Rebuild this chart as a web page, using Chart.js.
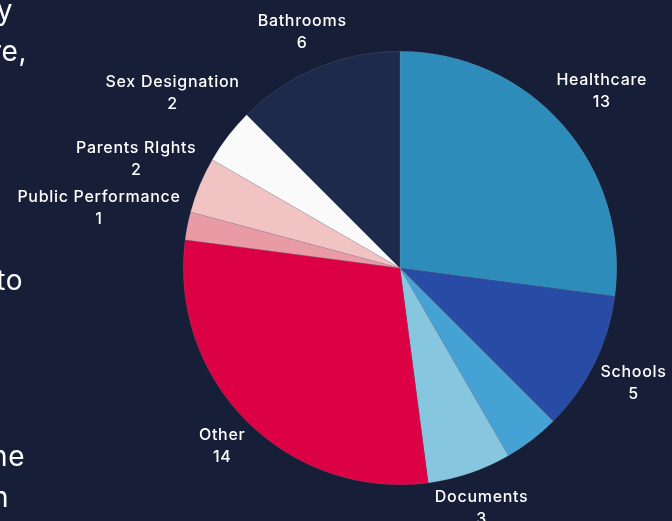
<!DOCTYPE html>
<html>
<head>
<meta charset="utf-8">
<script src="https://cdn.jsdelivr.net/npm/chart.js@4/dist/chart.umd.min.js"></script>
<style>
  html, body { margin: 0; padding: 0; background: #171e37; overflow: hidden; }
  #wrap { position: relative; width: 672px; height: 521px; }
  canvas { position: absolute; left: 0; top: 0; }
  .frag { position: absolute; right: 0; color: #ffffff; font-family: Inter, "Noto Sans", sans-serif;
          font-size: 28px; font-weight: 400; letter-spacing: 0.5px; white-space: nowrap; line-height: 1; }
</style>
</head>
<body>
<div id="wrap">
  <canvas id="c" width="672" height="521"></canvas>
  <div class="frag" style="right:659px; top:-4px;">y</div>
  <div class="frag" style="right:645px; top:37px;">re,</div>
  <div class="frag" style="right:649px; top:266px;">to</div>
  <div class="frag" style="right:647px; top:442px;">he</div>
  <div class="frag" style="right:663px; top:483px;">n</div>
</div>
<script>
const categories = ["Healthcare", "Schools", "", "Documents", "Other", "Public Performance", "Parents RIghts", "Sex Designation", "Bathrooms"];
const counts = [13, 5, 2, 3, 14, 1, 2, 2, 6];
const sliceColors = ["#2e8cbb", "#284ca5", "#46a1d4", "#86c6de", "#dc0044", "#e89aa5", "#f2c3c3", "#fafafa", "#1e2a4b"];

const outsideLabels = {
  id: 'outsideLabels',
  afterDatasetsDraw(chart) {
    const ctx = chart.ctx;
    const meta = chart.getDatasetMeta(0);
    const lineH = 22;
    ctx.save();
    ctx.font = '500 16px Inter, "Noto Sans", sans-serif';
    try { ctx.letterSpacing = '0.7px'; } catch (e) {}
    ctx.fillStyle = '#ffffff';
    ctx.textAlign = 'center';
    ctx.textBaseline = 'middle';
    meta.data.forEach((arc, i) => {
      const name = chart.data.labels[i];
      if (!name) return;
      const val = String(chart.data.datasets[0].data[i]);
      const mid = (arc.startAngle + arc.endAngle) / 2;
      const vx = Math.cos(mid), vy = Math.sin(mid);
      const w = Math.max(ctx.measureText(name).width, ctx.measureText(val).width);
      const h = 32;
      const d = arc.outerRadius + 7 + (w / 2) * Math.abs(vx) + (h / 2) * Math.abs(vy);
      const cx = arc.x + vx * d, cy = arc.y + vy * d;
      ctx.fillText(name, cx, cy - lineH / 2);
      ctx.fillText(val, cx, cy + lineH / 2);
    });
    ctx.restore();
  }
};

new Chart(document.getElementById('c'), {
  type: 'pie',
  data: {
    labels: categories,
    datasets: [{
      data: counts,
      backgroundColor: sliceColors,
      borderColor: 'rgba(140,140,160,0.4)',
      borderWidth: 0.5
    }]
  },
  options: {
    responsive: false,
    animation: false,
    layout: { padding: { left: 128, right: 0, top: 51, bottom: 36 } },
    plugins: { legend: { display: false }, tooltip: { enabled: false } }
  },
  plugins: [outsideLabels]
});
</script>
</body>
</html>
